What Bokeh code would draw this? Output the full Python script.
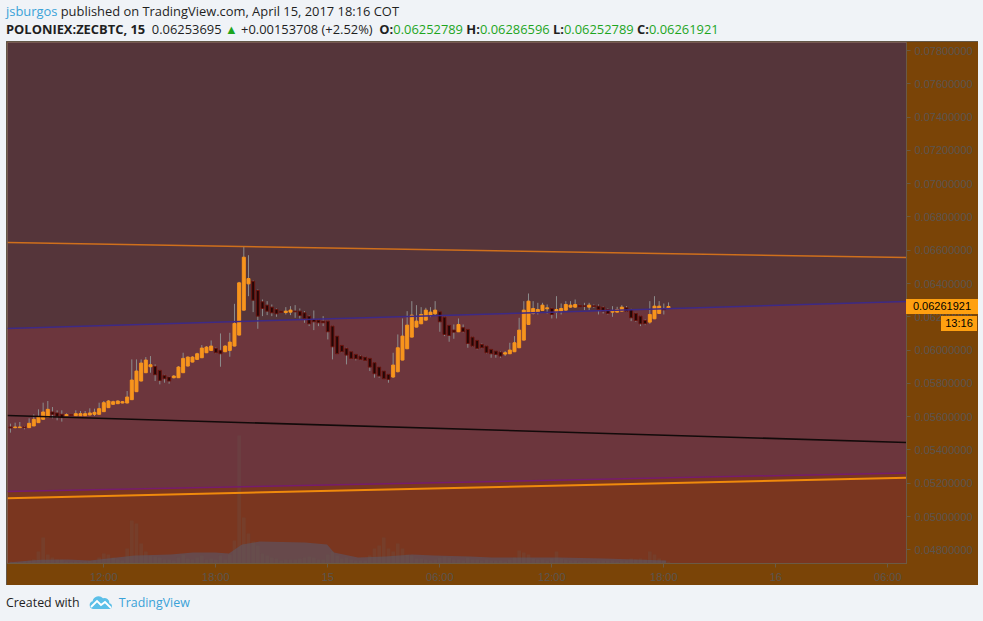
from bokeh.plotting import figure
from bokeh.models import (ColumnDataSource, Range1d, FixedTicker, PrintfTickFormatter,
                          Div, GlobalInlineStyleSheet)
from bokeh.layouts import column
from bokeh.embed import file_html
from bokeh.resources import INLINE

# ---------------- data (POLONIEX:ZECBTC, 15 min) ----------------
# hour 0 = 14 Apr 2017 00:00; first candle at 07:00
first_hour = 7.0
bar_hours = 0.25

opens = [
    0.05538, 0.05534, 0.05534, 0.05538, 0.05534, 0.05544, 0.05564, 0.05584, 0.05598, 0.05628,
    0.05622, 0.05614, 0.05606, 0.05612, 0.05606, 0.05606, 0.05606, 0.05610, 0.05614, 0.05614,
    0.05630, 0.05654, 0.05674, 0.05678, 0.05682, 0.05682, 0.05702, 0.05750, 0.05814, 0.05864,
    0.05900, 0.05902, 0.05878, 0.05848, 0.05838, 0.05834, 0.05834, 0.05864, 0.05904, 0.05928,
    0.05944, 0.05954, 0.05984, 0.05998, 0.06010, 0.05998, 0.05990, 0.05998, 0.06024, 0.06090,
    0.06240, 0.06398, 0.06414, 0.06358, 0.06290, 0.06270, 0.06258, 0.06244, 0.06234, 0.06226,
    0.06228, 0.06234, 0.06234, 0.06224, 0.06204, 0.06184, 0.06180, 0.06174, 0.06174, 0.06144,
    0.06084, 0.06028, 0.06010, 0.05990, 0.05974, 0.05964, 0.05958, 0.05950, 0.05924, 0.05898,
    0.05874, 0.05854, 0.05838, 0.05870, 0.05940, 0.06008, 0.06078, 0.06138, 0.06158, 0.06180,
    0.06208, 0.06218, 0.06230, 0.06198, 0.06148, 0.06120, 0.06110, 0.06134, 0.06124, 0.06078,
    0.06058, 0.06034, 0.06024, 0.06004, 0.05994, 0.05988, 0.05976, 0.05978, 0.05990, 0.06014,
    0.06060, 0.06154, 0.06220, 0.06228, 0.06238, 0.06248, 0.06250, 0.06228, 0.06234, 0.06240,
    0.06258, 0.06258, 0.06268, 0.06266, 0.06258, 0.06266, 0.06264, 0.06258, 0.06244, 0.06228,
    0.06228, 0.06234, 0.06254, 0.06244, 0.06220, 0.06204, 0.06178, 0.06168, 0.06188, 0.06220,
    0.06246, 0.06252789,
]
highs = [
    0.05558, 0.05564, 0.05568, 0.05544, 0.05590, 0.05614, 0.05644, 0.05684, 0.05694, 0.05658,
    0.05638, 0.05638, 0.05620, 0.05616, 0.05638, 0.05634, 0.05634, 0.05650, 0.05648, 0.05684,
    0.05694, 0.05700, 0.05696, 0.05698, 0.05694, 0.05754, 0.05944, 0.05944, 0.05944, 0.05958,
    0.05964, 0.05914, 0.05880, 0.05852, 0.05844, 0.05850, 0.05904, 0.05984, 0.05962, 0.05964,
    0.05984, 0.06030, 0.06024, 0.06058, 0.06016, 0.06100, 0.06030, 0.06104, 0.06278, 0.06410,
    0.06624, 0.06570, 0.06420, 0.06364, 0.06304, 0.06294, 0.06274, 0.06250, 0.06236, 0.06258,
    0.06264, 0.06270, 0.06250, 0.06234, 0.06210, 0.06238, 0.06184, 0.06204, 0.06176, 0.06146,
    0.06086, 0.06030, 0.06014, 0.05994, 0.05976, 0.05970, 0.05962, 0.05952, 0.05926, 0.05900,
    0.05876, 0.05856, 0.05984, 0.06094, 0.06190, 0.06234, 0.06294, 0.06270, 0.06258, 0.06254,
    0.06258, 0.06294, 0.06234, 0.06200, 0.06150, 0.06154, 0.06190, 0.06154, 0.06126, 0.06080,
    0.06060, 0.06040, 0.06026, 0.06006, 0.05996, 0.05994, 0.05994, 0.06044, 0.06084, 0.06194,
    0.06294, 0.06340, 0.06294, 0.06284, 0.06284, 0.06274, 0.06254, 0.06324, 0.06280, 0.06294,
    0.06294, 0.06304, 0.06272, 0.06284, 0.06284, 0.06274, 0.06274, 0.06264, 0.06250, 0.06264,
    0.06260, 0.06270, 0.06264, 0.06248, 0.06224, 0.06206, 0.06184, 0.06294, 0.06324, 0.06294,
    0.06280, 0.06286596,
]
lows = [
    0.05504, 0.05530, 0.05532, 0.05524, 0.05534, 0.05544, 0.05564, 0.05584, 0.05598, 0.05590,
    0.05578, 0.05570, 0.05604, 0.05606, 0.05604, 0.05604, 0.05604, 0.05608, 0.05604, 0.05614,
    0.05628, 0.05652, 0.05672, 0.05676, 0.05680, 0.05680, 0.05700, 0.05748, 0.05812, 0.05862,
    0.05864, 0.05814, 0.05794, 0.05804, 0.05798, 0.05830, 0.05832, 0.05862, 0.05902, 0.05926,
    0.05942, 0.05952, 0.05982, 0.05996, 0.05980, 0.05900, 0.05988, 0.05960, 0.06022, 0.06088,
    0.06238, 0.06324, 0.06228, 0.06128, 0.06204, 0.06210, 0.06204, 0.06200, 0.06224, 0.06214,
    0.06210, 0.06194, 0.06190, 0.06164, 0.06144, 0.06120, 0.06144, 0.06144, 0.06064, 0.05944,
    0.05976, 0.05986, 0.05914, 0.05946, 0.05938, 0.05940, 0.05934, 0.05874, 0.05834, 0.05834,
    0.05826, 0.05804, 0.05834, 0.05866, 0.05938, 0.06006, 0.06076, 0.06136, 0.06156, 0.06178,
    0.06198, 0.06204, 0.06110, 0.06084, 0.06050, 0.06068, 0.06108, 0.06104, 0.06014, 0.06020,
    0.06004, 0.06010, 0.05980, 0.05954, 0.05954, 0.05954, 0.05964, 0.05976, 0.05988, 0.06012,
    0.06058, 0.06152, 0.06214, 0.06214, 0.06236, 0.06220, 0.06190, 0.06190, 0.06214, 0.06238,
    0.06254, 0.06254, 0.06258, 0.06240, 0.06240, 0.06254, 0.06214, 0.06220, 0.06214, 0.06200,
    0.06226, 0.06230, 0.06230, 0.06174, 0.06170, 0.06144, 0.06150, 0.06158, 0.06186, 0.06218,
    0.06214, 0.06252789,
]
closes = [
    0.05532, 0.05538, 0.05538, 0.05534, 0.05560, 0.05584, 0.05598, 0.05628, 0.05644, 0.05614,
    0.05602, 0.05594, 0.05612, 0.05608, 0.05618, 0.05618, 0.05618, 0.05622, 0.05626, 0.05648,
    0.05684, 0.05694, 0.05690, 0.05694, 0.05690, 0.05718, 0.05820, 0.05874, 0.05922, 0.05940,
    0.05912, 0.05852, 0.05818, 0.05828, 0.05814, 0.05844, 0.05898, 0.05950, 0.05958, 0.05958,
    0.05978, 0.06012, 0.06018, 0.06024, 0.05984, 0.05978, 0.06024, 0.06048, 0.06160, 0.06404,
    0.06558, 0.06430, 0.06300, 0.06204, 0.06250, 0.06234, 0.06224, 0.06218, 0.06226, 0.06234,
    0.06240, 0.06230, 0.06208, 0.06188, 0.06158, 0.06170, 0.06164, 0.06164, 0.06110, 0.06020,
    0.05978, 0.05990, 0.05970, 0.05950, 0.05948, 0.05944, 0.05938, 0.05898, 0.05858, 0.05844,
    0.05828, 0.05824, 0.05910, 0.06014, 0.06084, 0.06150, 0.06210, 0.06174, 0.06214, 0.06240,
    0.06228, 0.06240, 0.06170, 0.06094, 0.06088, 0.06108, 0.06154, 0.06110, 0.06040, 0.06024,
    0.06010, 0.06014, 0.05984, 0.05978, 0.05974, 0.05964, 0.05984, 0.06000, 0.06044, 0.06120,
    0.06240, 0.06294, 0.06250, 0.06244, 0.06270, 0.06254, 0.06214, 0.06244, 0.06250, 0.06274,
    0.06270, 0.06274, 0.06260, 0.06262, 0.06270, 0.06262, 0.06244, 0.06234, 0.06220, 0.06234,
    0.06244, 0.06258, 0.06234, 0.06194, 0.06178, 0.06158, 0.06158, 0.06214, 0.06264, 0.06264,
    0.06242, 0.06261921,
]
volumes = [
    20, 15, 15, 20, 30, 40, 120, 260, 90, 60,
    40, 40, 20, 15, 20, 15, 20, 25, 30, 60,
    100, 90, 60, 40, 30, 150, 430, 400, 200, 120,
    80, 70, 60, 40, 40, 30, 60, 90, 50, 40,
    60, 80, 40, 50, 40, 80, 40, 90, 230, 1280,
    460, 300, 220, 180, 100, 80, 60, 50, 30, 40,
    40, 40, 50, 60, 70, 60, 40, 40, 90, 120,
    80, 50, 60, 40, 30, 30, 30, 80, 150, 180,
    260, 150, 120, 200, 150, 90, 80, 50, 50, 40,
    30, 40, 60, 70, 60, 40, 40, 30, 60, 40,
    40, 30, 40, 30, 30, 30, 20, 40, 60, 130,
    110, 90, 50, 40, 40, 30, 50, 120, 50, 40,
    30, 30, 20, 20, 20, 20, 30, 30, 30, 30,
    20, 30, 30, 50, 40, 50, 40, 120, 90, 50,
    30, 20,
]
# volume moving average (sampled)
vol_ma_hours = [6.96, 8.62, 10.07, 11.25, 12.70, 13.66, 15.59, 16.77, 17.95, 18.70, 19.40, 20.36,
                22.78, 23.96, 24.33, 25.62, 27.07, 28.51, 29.70, 31.62, 32.80, 36.40, 38.81, 42.13]
vol_ma_values = [13, 37, 40, 30, 60, 80, 90, 110, 110, 100, 190, 220,
                 210, 190, 110, 60, 70, 90, 80, 70, 60, 60, 50, 30]

# drawings: prices at the left and right edges of the chart
line_hours = [6.841, 55.0]
upper_orange_line = [0.06646, 0.06556]
blue_line = [0.06130, 0.06292]
black_line = [0.05607, 0.05445]
purple_line = [0.05150, 0.05262]
lower_orange_line = [0.05110, 0.05233]

y_ticks = [0.048, 0.050, 0.052, 0.054, 0.056, 0.058, 0.060, 0.062,
           0.064, 0.066, 0.068, 0.070, 0.072, 0.074, 0.076, 0.078]
x_tick_hours = [12, 18, 24, 30, 36, 42, 48, 54]
x_tick_labels = ["12:00", "18:00", "15", "06:00", "12:00", "18:00", "16", "06:00"]

last_price = 0.06253695
change_abs = "+0.00153708"
change_pct = "(+2.52%)"
countdown = "13:16"

# ---------------- chart ----------------
Y0, Y1 = 0.047177, 0.078481
X0, X1 = 6.841, 55.0
FRAME_W, FRAME_H = 899, 521
FIG_TOP, FRAME_TOP = 41, 42

p = figure(frame_width=FRAME_W, frame_height=FRAME_H, x_range=Range1d(X0, X1), y_range=Range1d(Y0, Y1),
           y_axis_location="right", output_backend="svg", toolbar_location=None,
           min_border_left=1, min_border_top=1, min_border_right=72, min_border_bottom=22,
           margin=(0, 0, 0, 6))
p.extra_y_ranges = {"vol": Range1d(0, 5210)}
p.background_fill_color = "#55353a"
p.border_fill_color = "#7a4407"
p.outline_line_color = None
p.grid.visible = False
p.styles = {"outline": "1px solid #5e5e5e", "outline-offset": "-1px"}

# background regions between drawings
p.varea(x=line_hours, y1=blue_line, y2=[Y1, Y1], fill_color="#55353a")
p.varea(x=line_hours, y1=purple_line, y2=blue_line, fill_color="#6c363d")
p.varea(x=line_hours, y1=[Y0, Y0], y2=purple_line, fill_color="#7a361f")

# volume
hours = [first_hour + i * bar_hours for i in range(len(opens))]
p.varea(x=vol_ma_hours, y1=[0] * len(vol_ma_values), y2=vol_ma_values,
        fill_color="#67494b", y_range_name="vol")
p.vbar(x=hours, top=volumes, bottom=0, width=0.2, fill_color="#6a5a50", fill_alpha=0.22,
       line_color=None, y_range_name="vol")

# candles
bull = [c >= o for o, c in zip(opens, closes)]
src = ColumnDataSource(dict(
    t=hours, o=opens, h=highs, l=lows, c=closes,
    top=[max(o, c) for o, c in zip(opens, closes)],
    bot=[min(o, c) for o, c in zip(opens, closes)],
    fill=["#f7941d" if b else "#220707" for b in bull],
    edge=["#f7941d" if b else "#6a150f" for b in bull],
))
p.segment(x0="t", y0="l", x1="t", y1="h", source=src, line_color="#8c8c8c", line_width=1)
p.vbar(x="t", top="top", bottom="bot", width=0.16, source=src,
       fill_color="fill", line_color="edge", line_width=1)

# drawings
p.line(line_hours, upper_orange_line, line_color="#cf6f1c", line_width=1.5)
p.line(line_hours, blue_line, line_color="#3d2a86", line_width=1.5)
p.line(line_hours, black_line, line_color="#120a0a", line_width=1.6)
p.line(line_hours, purple_line, line_color="#761c6e", line_width=1.5)
p.line(line_hours, lower_orange_line, line_color="#f08a0c", line_width=2)

# axes
for ax in (p.xaxis[0], p.yaxis[0]):
    ax.axis_line_color = "#6b5a45"
    ax.major_tick_line_color = "#6b5a45"
    ax.major_tick_out = 4
    ax.major_tick_in = 0
    ax.minor_tick_line_color = None
    ax.major_label_text_color = "#5b5550"
    ax.major_label_text_font = "Liberation Sans"
    ax.major_label_text_font_size = "11px"
p.yaxis[0].ticker = FixedTicker(ticks=y_ticks)
p.yaxis[0].formatter = PrintfTickFormatter(format="%.8f")
p.yaxis[0].major_label_standoff = 4
p.xaxis[0].ticker = FixedTicker(ticks=x_tick_hours)
p.xaxis[0].major_label_overrides = {h: s for h, s in zip(x_tick_hours, x_tick_labels)}
p.xaxis[0].major_label_standoff = 3

# ---------------- header / footer ----------------
G = "#1ea51e"
header_html = (
    '<div style="position:relative;width:978px;height:41px;font-family:\'Open Sans\';font-size:12.9px;'
    'line-height:18px;color:#1f1f1f;white-space:nowrap;">'
    '<div style="position:absolute;left:6px;top:2px;">'
    '<div><span style="color:#3aa2d8">jsburgos</span> published on TradingView.com, April 15, 2017 18:16 COT</div>'
    f'<div><b>POLONIEX:ZECBTC, 15</b>&nbsp; {last_price:.8f} <span style="color:{G}">&#9650;</span> '
    f'{change_abs} {change_pct}&nbsp; <b>O:</b><span style="color:{G}">{opens[-1]:.8f}</span> '
    f'<b>H:</b><span style="color:{G}">{highs[-1]:.8f}</span> '
    f'<b>L:</b><span style="color:{G}">{lows[-1]:.8f}</span> '
    f'<b>C:</b><span style="color:{G}">{closes[-1]:.8f}</span></div></div></div>'
)
logo = (
    '<svg width="24" height="14" viewBox="0 0 24 14" style="vertical-align:-2px;margin:0 6px 0 6px">'
    '<path d="M4 14 A4 4 0 0 1 3.6 6.2 A6 6 0 0 1 14 3.2 A5 5 0 0 1 20.4 8.2 A3 3 0 0 1 21 14 Z" fill="#5cbfe8"/>'
    '<polyline points="2,12 8,6 12,10 16,7 22,13" fill="none" stroke="#ffffff" stroke-width="1.8"/>'
    '</svg>'
)
# last-price tags on the price scale (position from the chart's own scale constants)
footer_top = FIG_TOP + 1 + FRAME_H + 22
price_y = FRAME_TOP + (Y1 - closes[-1]) / (Y1 - Y0) * FRAME_H
tag_top = price_y - 7.5 - footer_top
tag_css = ("position:absolute;height:15px;background:#ffa010;font-family:'Liberation Sans';"
           "font-size:11px;line-height:15px;text-align:center;color:#000;")
footer_html = (
    '<div style="position:relative;width:978px;height:34px;font-family:\'Open Sans\';font-size:12.4px;'
    'color:#1f1f1f;white-space:nowrap;">'
    '<div style="position:absolute;left:6px;top:4px;line-height:28px;">Created with ' + logo +
    '<span style="color:#3aa2d8">TradingView</span></div>'
    f'<div style="{tag_css}left:906px;top:{tag_top:.1f}px;width:72px;">{closes[-1]:.8f}</div>'
    f'<div style="{tag_css}left:941px;top:{tag_top + 17:.1f}px;width:36px;">{countdown}</div>'
    '</div>'
)
sheet = GlobalInlineStyleSheet(css="body { background: #f0f3f7; }")
header = Div(text=header_html, width=978, height=41, margin=0, stylesheets=[sheet],
             styles={"overflow": "visible"})
footer = Div(text=footer_html, width=978, height=34, margin=0, styles={"overflow": "visible"})

layout = column(header, p, footer, spacing=0, margin=0)
open("out.html", "w").write(file_html(layout, INLINE))
